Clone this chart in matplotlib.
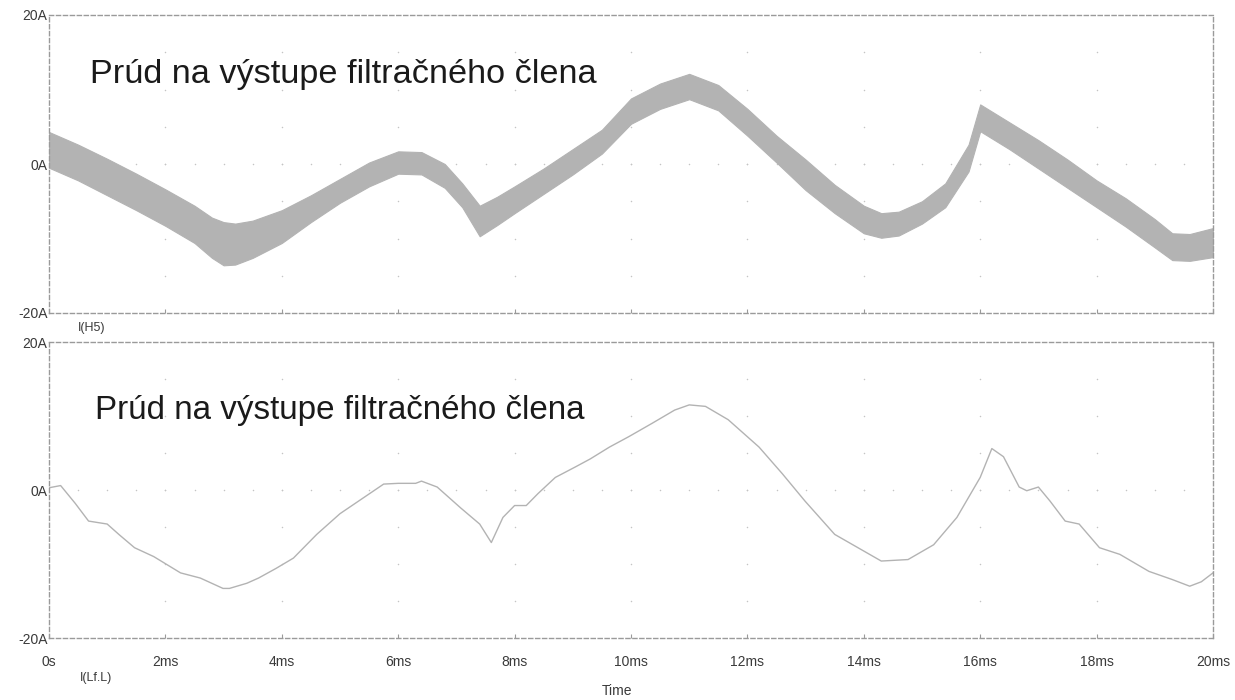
import matplotlib
matplotlib.use("Agg")
import matplotlib.pyplot as plt
import numpy as np

plt.rcParams['font.family'] = ['Liberation Sans', 'DejaVu Sans']

# ---- data (time in ms, current in A) ----
# upper trace I(H5): ripple band, upper and lower envelope
t_band = [0.0, 0.5, 1.0, 1.5, 2.0, 2.5, 2.8, 3.0, 3.2, 3.5, 4.0, 4.5, 5.0, 5.5, 6.0, 6.4,
          6.8, 7.1, 7.4, 7.7, 8.0, 8.5, 9.0, 9.5, 10.0, 10.5, 11.0, 11.5, 12.0,
          12.5, 13.0, 13.5, 14.0, 14.3, 14.6, 15.0, 15.4, 15.8, 16.0, 16.5,
          17.0, 17.5, 18.0, 18.5, 19.0, 19.3, 19.6, 20.0]
i_upper = [4.3, 2.6, 0.7, -1.3, -3.4, -5.6, -7.2, -7.8, -8.0, -7.6, -6.2, -4.2, -2.0, 0.2, 1.7, 1.6,
           0.0, -2.6, -5.6, -4.4, -3.0, -0.6, 2.0, 4.6, 8.8, 10.8, 12.1, 10.6, 7.4,
           3.8, 0.6, -2.8, -5.6, -6.6, -6.4, -5.0, -2.6, 2.6, 8.0, 5.6,
           3.2, 0.6, -2.2, -4.6, -7.4, -9.3, -9.4, -8.6]
i_lower = [-0.5, -2.2, -4.2, -6.2, -8.3, -10.6, -12.6, -13.6, -13.5, -12.6, -10.6, -7.8, -5.2, -3.0, -1.3, -1.4,
           -3.2, -5.8, -9.7, -8.2, -6.6, -4.0, -1.4, 1.4, 5.4, 7.4, 8.7, 7.2, 3.8,
           0.2, -3.5, -6.6, -9.3, -9.9, -9.6, -8.0, -5.8, -1.0, 4.4, 2.0,
           -0.6, -3.2, -5.8, -8.4, -11.2, -12.9, -13.0, -12.5]

# lower trace I(Lf.L): filtered current
t_filt = [0.0, 0.2, 0.45, 0.68, 1.0, 1.2, 1.47, 1.8, 2.26, 2.6, 2.99, 3.1, 3.4, 3.6,
          3.9, 4.2, 4.6, 5.0, 5.3, 5.75, 6.0, 6.3, 6.4, 6.67, 7.07, 7.4, 7.6,
          7.8, 8.0, 8.2, 8.4, 8.7, 9.04, 9.3, 9.63, 9.96, 10.36, 10.75, 11.0,
          11.28, 11.67, 12.2, 12.6, 12.99, 13.5, 13.9, 14.3, 14.76, 15.2, 15.6,
          16.0, 16.2, 16.4, 16.67, 16.8, 17.0, 17.2, 17.46, 17.7, 18.05, 18.4,
          18.9, 19.3, 19.6, 19.8, 20.0]
i_filt = [0.3, 0.6, -1.8, -4.2, -4.6, -6.0, -7.8, -9.0, -11.2, -11.9, -13.3, -13.3, -12.6, -11.9,
          -10.6, -9.2, -6.0, -3.2, -1.6, 0.8, 0.9, 0.9, 1.2, 0.4, -2.4, -4.6, -7.1,
          -3.7, -2.1, -2.1, -0.5, 1.7, 3.1, 4.2, 5.8, 7.2, 9.0, 10.8, 11.5,
          11.3, 9.5, 5.8, 2.2, -1.5, -6.0, -7.8, -9.6, -9.4, -7.4, -3.7,
          1.7, 5.6, 4.5, 0.4, -0.1, 0.4, -1.5, -4.2, -4.6, -7.8, -8.7,
          -11.0, -12.1, -13.0, -12.4, -11.2]

x_ticks = [0, 2, 4, 6, 8, 10, 12, 14, 16, 18, 20]
x_labels = ['0s', '2ms', '4ms', '6ms', '8ms', '10ms', '12ms', '14ms', '16ms', '18ms', '20ms']
y_ticks = [-20, 0, 20]
y_labels = ['-20A', '0A', '20A']
title = 'Prúd na výstupe filtračného člena'

W, H = 1235, 700
fig = plt.figure(figsize=(W / 100, H / 100), dpi=100)
ax1 = fig.add_axes([49 / W, 1 - 313 / H, (1213 - 49) / W, (313 - 15) / H])
ax2 = fig.add_axes([49 / W, 1 - 638 / H, (1213 - 49) / W, (638 - 342) / H])

spine_c = '#9a9a9a'
dot_c = '#c4c4c4'
trace_c = '#b3b3b3'
lab_c = '#3a3a3a'


def style(ax, show_x):
    ax.set_xlim(0, 20)
    ax.set_ylim(-20, 20)
    for s in ax.spines.values():
        s.set_color(spine_c)
        s.set_linestyle((0, (3, 2)))
        s.set_linewidth(1.0)
    ax.set_yticks(y_ticks)
    ax.set_yticklabels(y_labels)
    ax.set_xticks(x_ticks)
    if show_x:
        ax.set_xticklabels(x_labels)
    else:
        ax.set_xticklabels([])
    ax.tick_params(axis='x', direction='in', length=3, color=spine_c,
                   labelsize=10, labelcolor=lab_c, pad=12)
    ax.tick_params(axis='y', length=0, labelsize=10, labelcolor=lab_c, pad=1)
    # PSpice style dotted grid: dots along each 2 ms line and along 0 A
    gx, gy = np.meshgrid(np.arange(2, 20, 2), np.arange(-15, 20, 5))
    ax.scatter(gx.ravel(), gy.ravel(), s=1.2, color=dot_c, lw=0, zorder=1)
    hx = np.arange(0.5, 20, 0.5)
    ax.scatter(hx, np.zeros_like(hx), s=1.2, color=dot_c, lw=0, zorder=1)


style(ax1, False)
style(ax2, True)

ax1.fill_between(t_band, i_lower, i_upper, color=trace_c, lw=0.8, edgecolor=trace_c, zorder=2)
ax2.plot(t_filt, i_filt, color=trace_c, lw=1.0, zorder=2)

ax1.text(90 / W, 1 - 74 / H, title, transform=fig.transFigure, fontsize=24.7,
         color='#1a1a1a', va='center', ha='left')
ax2.text(95 / W, 1 - 410 / H, title, transform=fig.transFigure, fontsize=23.9,
         color='#1a1a1a', va='center', ha='left')

fig.text(92 / W, 1 - 328 / H, 'I(H5)', fontsize=9, color=lab_c, ha='center', va='center')
fig.text(96 / W, 1 - 678 / H, 'I(Lf.L)', fontsize=9, color=lab_c, ha='center', va='center')
fig.text(617 / W, 1 - 691 / H, 'Time', fontsize=10, color=lab_c, ha='center', va='center')

fig.savefig('out.png', dpi=100)
